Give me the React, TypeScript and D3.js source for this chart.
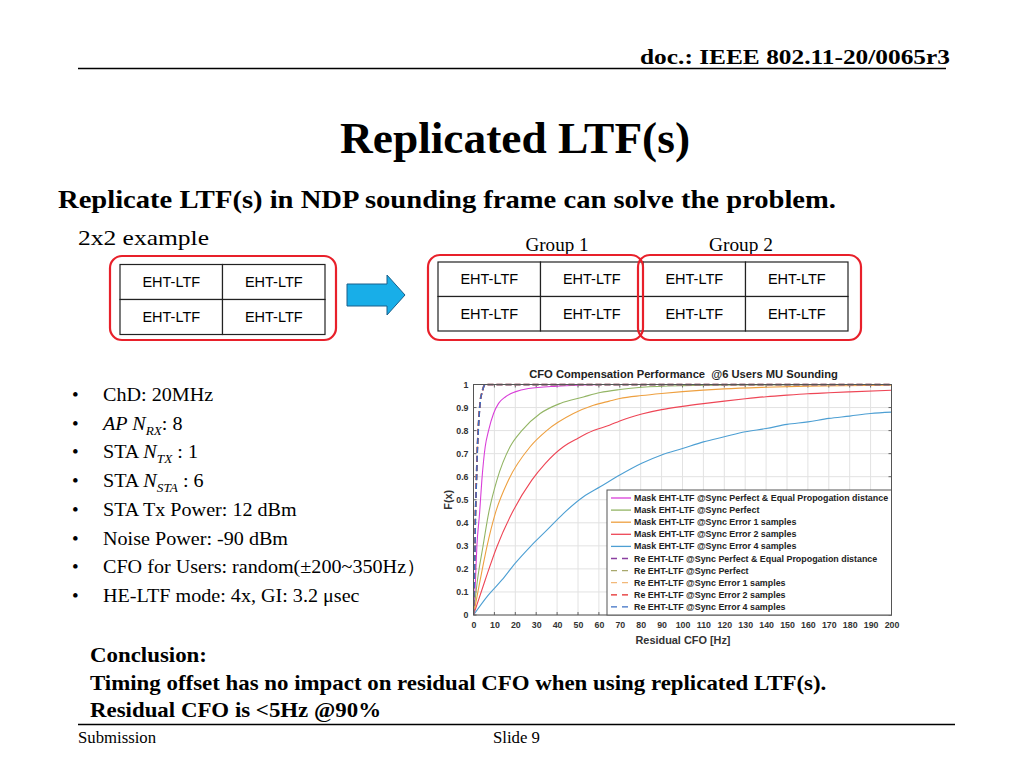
import { useEffect, useRef } from 'react';
import * as d3 from 'd3';

// Axis ticks
const xTicks = [0, 10, 20, 30, 40, 50, 60, 70, 80, 90, 100, 110, 120, 130, 140, 150, 160, 170, 180, 190, 200];
const yTicks = [0, 0.1, 0.2, 0.3, 0.4, 0.5, 0.6, 0.7, 0.8, 0.9, 1];

// CDF curves: [residual CFO Hz, F(x)]
const maskPerfectEqual: [number, number][] = [
  [0, 0], [0.8, 0.12], [1.6, 0.296], [2.9, 0.44], [4, 0.585], [5.6, 0.73], [7.2, 0.8], [9.6, 0.874],
  [12, 0.918], [15.2, 0.946], [19.9, 0.968], [26.3, 0.983], [40, 0.993], [50, 0.997], [62, 1], [200, 1],
];
const maskPerfect: [number, number][] = [
  [0, 0], [1.9, 0.152], [4.5, 0.296], [7.2, 0.44], [11.2, 0.585], [17.5, 0.73], [23.1, 0.8], [31.9, 0.874],
  [41.5, 0.918], [52.6, 0.946], [60.6, 0.965], [70, 0.978], [80.5, 0.988], [100, 0.995], [130, 0.998], [200, 1],
];
const maskErr1: [number, number][] = [
  [0, 0], [3.2, 0.152], [6.4, 0.296], [10.4, 0.44], [16.7, 0.585], [27.1, 0.73], [35, 0.8], [47.8, 0.874],
  [57.4, 0.91], [65, 0.928], [70, 0.939], [80.5, 0.952], [90, 0.961], [100, 0.969], [120, 0.981],
  [140, 0.988], [160, 0.993], [200, 0.997],
];
const maskErr2: [number, number][] = [
  [0, 0], [5.6, 0.152], [11.2, 0.296], [18.3, 0.44], [27.9, 0.585], [34.3, 0.657], [43, 0.73], [50, 0.767],
  [57.4, 0.8], [65, 0.823], [70, 0.842], [80.5, 0.872], [90, 0.891], [100, 0.905], [110, 0.917],
  [120, 0.928], [130, 0.938], [140, 0.947], [150, 0.954], [160, 0.96], [170, 0.964], [180, 0.968], [200, 0.975],
];
const maskErr4: [number, number][] = [
  [0, 0], [6.4, 0.079], [13.6, 0.152], [19.9, 0.224], [27.1, 0.296], [35.1, 0.368], [43, 0.44], [52.6, 0.513],
  [60.6, 0.556], [70, 0.607], [80.5, 0.658], [90, 0.694], [100, 0.722], [110, 0.751], [120, 0.773],
  [130, 0.795], [140, 0.809], [150, 0.827], [160, 0.838], [170, 0.853], [180, 0.863], [190, 0.874], [200, 0.88],
];
const rePerfectEqual: [number, number][] = [
  [0, 0], [0.3, 0.1], [0.5, 0.2], [0.7, 0.3], [0.8, 0.4], [1.1, 0.5], [1.4, 0.6], [1.7, 0.7], [2.2, 0.8],
  [2.7, 0.874], [3.2, 0.93], [4, 0.965], [5.4, 1], [200, 1],
];
const rePerfect: [number, number][] = [
  [0, 0], [0.3, 0.1], [0.5, 0.2], [0.7, 0.3], [0.85, 0.4], [1.1, 0.5], [1.4, 0.6], [1.75, 0.7], [2.2, 0.8],
  [2.7, 0.874], [3.2, 0.93], [4, 0.965], [5.5, 1], [200, 1],
];
const reErr1: [number, number][] = [
  [0, 0], [0.3, 0.1], [0.5, 0.2], [0.7, 0.3], [0.85, 0.4], [1.1, 0.5], [1.45, 0.6], [1.75, 0.7], [2.25, 0.8],
  [2.75, 0.874], [3.25, 0.93], [4.05, 0.965], [5.5, 1], [200, 1],
];
const reErr2: [number, number][] = [
  [0, 0], [0.3, 0.1], [0.5, 0.2], [0.7, 0.3], [0.85, 0.4], [1.15, 0.5], [1.45, 0.6], [1.8, 0.7], [2.25, 0.8],
  [2.75, 0.874], [3.3, 0.93], [4.1, 0.965], [5.6, 1], [200, 1],
];
const reErr4: [number, number][] = [
  [0, 0], [0.3, 0.1], [0.5, 0.2], [0.75, 0.3], [0.9, 0.4], [1.15, 0.5], [1.5, 0.6], [1.8, 0.7], [2.3, 0.8],
  [2.8, 0.874], [3.3, 0.93], [4.1, 0.965], [5.6, 1], [200, 1],
];

const seriesNames = [
  'Mask EHT-LTF @Sync Perfect & Equal Propogation distance',
  'Mask EHT-LTF @Sync Perfect',
  'Mask EHT-LTF @Sync Error 1 samples',
  'Mask EHT-LTF @Sync Error 2 samples',
  'Mask EHT-LTF @Sync Error 4 samples',
  'Re EHT-LTF @Sync Perfect & Equal Propogation distance',
  'Re EHT-LTF @Sync Perfect',
  'Re EHT-LTF @Sync Error 1 samples',
  'Re EHT-LTF @Sync Error 2 samples',
  'Re EHT-LTF @Sync Error 4 samples',
];
const seriesData = [maskPerfectEqual, maskPerfect, maskErr1, maskErr2, maskErr4, rePerfectEqual, rePerfect, reErr1, reErr2, reErr4];

const seriesColors = ['#d93fd9', '#93b565', '#eea040', '#ee4656', '#4d9fd3', '#8a3fa0', '#a8a86c', '#f2b878', '#e32626', '#3a6fc4'];
const seriesDashed = [false, false, false, false, false, true, true, true, true, true];

// Slide texts
type Seg = { t: string; it?: boolean; sub?: boolean };
const bullets: Seg[][] = [
  [{ t: 'ChD: 20MHz' }],
  [{ t: 'AP N', it: true }, { t: 'RX', it: true, sub: true }, { t: ': 8' }],
  [{ t: 'STA ' }, { t: 'N', it: true }, { t: 'TX', it: true, sub: true }, { t: ' : 1' }],
  [{ t: 'STA ' }, { t: 'N', it: true }, { t: 'STA', it: true, sub: true }, { t: ' : 6' }],
  [{ t: 'STA Tx Power: 12 dBm' }],
  [{ t: 'Noise Power: -90 dBm' }],
  [{ t: 'CFO for Users: random(±200~350Hz）' }],
  [{ t: 'HE-LTF mode: 4x, GI: 3.2 μsec' }],
];
const conclusion = [
  'Conclusion:',
  'Timing offset has no impact on residual CFO when using replicated LTF(s).',
  'Residual CFO is <5Hz @90%',
];

const SERIF = '"Liberation Serif", "Times New Roman", serif';
const SANS = '"Liberation Sans", Arial, sans-serif';

export default function App() {
  const svgRef = useRef<SVGSVGElement>(null);

  useEffect(() => {
    const svg = d3.select(svgRef.current);
    svg.selectAll('*').remove();
    svg.append('rect').attr('width', 1024).attr('height', 768).attr('fill', '#fff');

    // text helper, optionally stretched to a measured width
    const label = (x: number, y: number, s: string, size: number, opts: { bold?: boolean; anchor?: string; w?: number; family?: string } = {}) => {
      const t = svg.append('text').attr('x', x).attr('y', y)
        .attr('text-anchor', opts.anchor || 'start')
        .style('font-family', opts.family || SERIF).style('font-size', `${size}px`)
        .style('font-weight', opts.bold ? 'bold' : 'normal').text(s);
      if (opts.w) t.attr('textLength', opts.w).attr('lengthAdjust', 'spacingAndGlyphs');
      return t;
    };

    // Header
    label(950, 64, 'doc.: IEEE 802.11-20/0065r3', 22, { bold: true, anchor: 'end', w: 310 });
    svg.append('line').attr('x1', 78).attr('x2', 946).attr('y1', 68.5).attr('y2', 68.5)
      .attr('stroke', '#000').attr('stroke-width', 1.5);

    label(515, 153, 'Replicated LTF(s)', 45, { bold: true, anchor: 'middle', w: 350 });
    label(58, 208, 'Replicate LTF(s) in NDP sounding frame can solve the problem.', 26, { bold: true, w: 778 });
    label(78, 245, '2x2 example', 22, { w: 131 });
    label(557, 251, 'Group 1', 18, { anchor: 'middle', w: 63 });
    label(741, 251, 'Group 2', 18, { anchor: 'middle', w: 64 });

    // LTF tables
    const drawTable = (x0: number, y0: number, cw: number, rh: number, cols: number) => {
      const g = svg.append('g');
      for (let r = 0; r < 2; r++) {
        for (let c = 0; c < cols; c++) {
          g.append('rect').attr('x', x0 + c * cw).attr('y', y0 + r * rh).attr('width', cw).attr('height', rh)
            .attr('fill', '#fff').attr('stroke', '#222').attr('stroke-width', 1.2);
          g.append('text').attr('x', x0 + c * cw + cw / 2).attr('y', y0 + r * rh + rh / 2 + 5)
            .attr('text-anchor', 'middle').style('font-family', SANS).style('font-size', '14.5px')
            .text('EHT-LTF');
        }
      }
    };
    drawTable(120, 264.5, 102.5, 35, 2);
    drawTable(438, 262, 102.5, 34.5, 4);
    const redBox = (x: number, y: number, w: number, h: number) =>
      svg.append('rect').attr('x', x).attr('y', y).attr('width', w).attr('height', h).attr('rx', 12)
        .attr('fill', 'none').attr('stroke', '#e8202a').attr('stroke-width', 2.2);
    redBox(110, 256, 226, 84);
    redBox(428, 255, 215, 85);
    redBox(638, 255, 223, 85);

    // Arrow
    svg.append('path')
      .attr('d', 'M347,284 L387,284 L387,275 L405,295 L387,315 L387,306 L347,306 Z')
      .attr('fill', '#18aee8').attr('stroke', '#1a5f8a').attr('stroke-width', 1);

    // Bullets
    bullets.forEach((segs, i) => {
      const y = 401 + i * 28.7;
      svg.append('text').attr('x', 72).attr('y', y).style('font-family', SERIF).style('font-size', '19px').text('•');
      const t = svg.append('text').attr('transform', `translate(103,${y}) scale(1.06,1)`)
        .style('font-family', SERIF).style('font-size', '19px');
      segs.forEach((s, k) => {
        const sp = t.append('tspan').text(s.t);
        if (s.it) sp.style('font-style', 'italic');
        if (s.sub) sp.style('font-size', '12.5px').attr('dy', 5);
        else if (k > 0 && segs[k - 1].sub) sp.attr('dy', -5);
      });
    });

    // Conclusion
    conclusion.forEach((c, i) => {
      svg.append('text').attr('transform', `translate(90,${662 + i * 27.5}) scale(1.04,1)`)
        .style('font-family', SERIF).style('font-weight', 'bold').style('font-size', '22px').text(c);
    });

    // Footer
    svg.append('line').attr('x1', 78).attr('x2', 955).attr('y1', 724.5).attr('y2', 724.5)
      .attr('stroke', '#000').attr('stroke-width', 1.5);
    label(78, 743, 'Submission', 16, { w: 78 });
    label(493, 743, 'Slide 9', 16, { w: 47 });

    // Chart
    const left = 473.5, right = 891.5, top = 384.5, bottom = 615;
    const x = d3.scaleLinear().domain([0, 200]).range([left, right]);
    const y = d3.scaleLinear().domain([0, 1]).range([bottom, top]);
    const chart = svg.append('g');

    chart.append('text').attr('x', 683.5).attr('y', 378).attr('text-anchor', 'middle')
      .style('font-family', SANS).style('font-weight', 'bold').style('font-size', '11.2px').attr('fill', '#222')
      .style('white-space', 'pre')
      .text('CFO Compensation Performance  @6 Users MU Sounding');

    const grid = chart.append('g').attr('stroke', '#e2e2e2').attr('stroke-width', 1);
    xTicks.forEach((t) => grid.append('line').attr('x1', x(t)).attr('x2', x(t)).attr('y1', top).attr('y2', bottom));
    yTicks.forEach((t) => grid.append('line').attr('x1', left).attr('x2', right).attr('y1', y(t)).attr('y2', y(t)));

    const xAxis = chart.append('g').attr('transform', `translate(0,${bottom})`)
      .call(d3.axisBottom(x).tickValues(xTicks).tickSize(0).tickPadding(7).tickFormat((d) => String(d)));
    const yAxis = chart.append('g').attr('transform', `translate(${left},0)`)
      .call(d3.axisLeft(y).tickValues(yTicks).tickSize(0).tickPadding(5).tickFormat((d) => String(d)));
    [xAxis, yAxis].forEach((a) => {
      a.select('.domain').remove();
      a.selectAll('text').style('font-family', SANS).style('font-weight', 'bold').style('font-size', '8.8px').attr('fill', '#333');
    });

    // tick marks on all four edges
    const tk = chart.append('g').attr('stroke', '#444').attr('stroke-width', 0.8);
    xTicks.forEach((t) => {
      tk.append('line').attr('x1', x(t)).attr('x2', x(t)).attr('y1', bottom).attr('y2', bottom - 3);
      tk.append('line').attr('x1', x(t)).attr('x2', x(t)).attr('y1', top).attr('y2', top + 3);
    });
    yTicks.forEach((t) => {
      tk.append('line').attr('x1', left).attr('x2', left + 3).attr('y1', y(t)).attr('y2', y(t));
      tk.append('line').attr('x1', right).attr('x2', right - 3).attr('y1', y(t)).attr('y2', y(t));
    });

    chart.append('text').attr('x', 683).attr('y', 644).attr('text-anchor', 'middle')
      .style('font-family', SANS).style('font-weight', 'bold').style('font-size', '10.9px').attr('fill', '#333')
      .text('Residual CFO [Hz]');
    chart.append('text').attr('transform', `translate(452,${(top + bottom) / 2}) rotate(-90)`).attr('text-anchor', 'middle')
      .style('font-family', SANS).style('font-weight', 'bold').style('font-size', '10.9px').attr('fill', '#333')
      .text('F(x)');

    svg.append('defs').append('clipPath').attr('id', 'plotclip').append('rect')
      .attr('x', left).attr('y', top - 1).attr('width', right - left).attr('height', bottom - top + 1);

    const line = d3.line<[number, number]>().x((d) => x(d[0])).y((d) => y(d[1])).curve(d3.curveMonotoneX);
    const lines = chart.append('g').attr('clip-path', 'url(#plotclip)');
    seriesData.forEach((s, i) => {
      lines.append('path').attr('d', line(s)).attr('fill', 'none').attr('stroke', seriesColors[i])
        .attr('stroke-width', seriesDashed[i] ? 1.5 : 1.1)
        .attr('stroke-dasharray', seriesDashed[i] ? '6,3' : null);
    });

    chart.append('rect').attr('x', left).attr('y', top).attr('width', right - left).attr('height', bottom - top)
      .attr('fill', 'none').attr('stroke', '#555').attr('stroke-width', 1);

    // Legend
    const lg = chart.append('g');
    lg.append('rect').attr('x', 607).attr('y', 490).attr('width', right - 607).attr('height', bottom - 490)
      .attr('fill', '#fff').attr('stroke', '#555').attr('stroke-width', 1);
    seriesNames.forEach((n, i) => {
      const ly = 498 + i * 12.1;
      lg.append('line').attr('x1', 611).attr('x2', 631).attr('y1', ly).attr('y2', ly)
        .attr('stroke', seriesColors[i]).attr('stroke-width', 1.3)
        .attr('stroke-dasharray', seriesDashed[i] ? '6,5' : null);
      lg.append('text').attr('x', 634).attr('y', ly + 3).style('font-family', SANS).style('font-weight', 'bold')
        .style('font-size', '8.9px').attr('fill', '#222').text(n);
    });
  }, []);

  return (
    <svg ref={svgRef} width={1024} height={768} style={{ position: 'absolute', left: 0, top: 0 }} />
  );
}
